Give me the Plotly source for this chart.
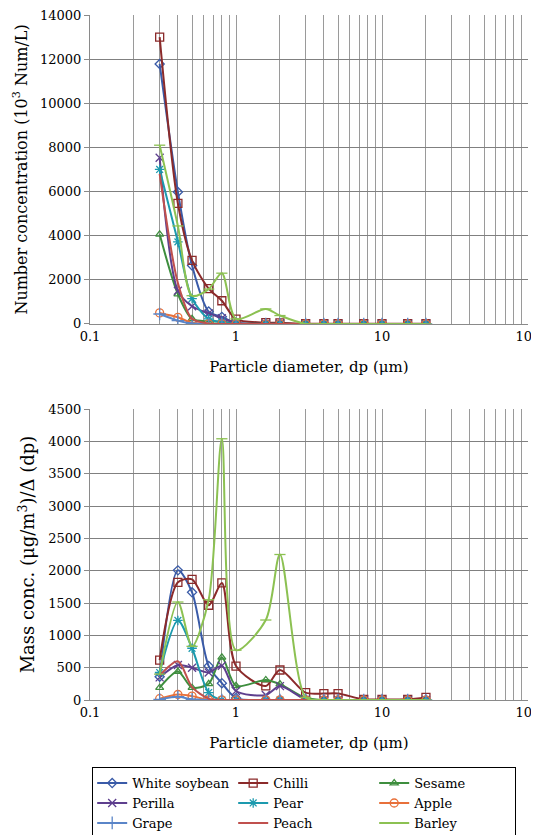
import plotly.graph_objects as go

dp = [0.3, 0.4, 0.5, 0.65, 0.8, 1.0, 1.6, 2.0, 3.0, 4.0, 5.0, 7.5, 10, 15, 20]

series_names = ["White soybean", "Chilli", "Sesame", "Perilla", "Pear", "Apple", "Grape", "Peach", "Barley"]

# Number concentration (10^3 Num/L)
num_white_soybean = [11780, 5980, 2650, 560, 320, 40, 10, 5, 0, 0, 0, 0, 0, 0, 0]
num_chilli = [13000, 5460, 2880, 1600, 1050, 220, 60, 50, 10, 10, 10, 10, 10, 10, 10]
num_sesame = [4060, 1350, 230, 120, 110, 20, 5, 5, 0, 0, 0, 0, 0, 0, 0]
num_perilla = [7530, 1500, 800, 480, 260, 40, 10, 5, 0, 0, 0, 0, 0, 0, 0]
num_pear = [7000, 3720, 1150, 230, 80, 10, 0, 0, 0, 0, 0, 0, 0, 0, 0]
num_apple = [500, 300, 50, 0, 0, 0, 0, 0, 0, 0, 0, 0, 0, 0, 0]
num_grape = [450, 150, 20, 0, 0, 0, 0, 0, 0, 0, 0, 0, 0, 0, 0]
num_peach = [6800, 1850, 230, 20, 0, 0, 0, 0, 0, 0, 0, 0, 0, 0, 0]
num_barley = [8100, 4440, 1280, 1580, 2300, 230, 680, 380, 0, 0, 0, 0, 0, 0, 0]

# Mass concentration (ug/m3)/d(dp)
mass_white_soybean = [360, 2005, 1665, 525, 260, 30, 0, 0, 0, 0, 0, 0, 0, 0, 0]
mass_chilli = [617, 1820, 1865, 1465, 1810, 525, 217, 464, 113, 100, 100, 10, 10, 10, 40]
mass_sesame = [190, 440, 190, 250, 660, 220, 310, 245, 30, 0, 0, 0, 0, 0, 0]
mass_perilla = [350, 540, 500, 425, 530, 140, 77, 215, 10, 0, 0, 0, 0, 0, 0]
mass_pear = [425, 1230, 800, 115, 0, 0, 0, 0, 0, 0, 0, 0, 0, 0, 0]
mass_apple = [20, 85, 60, 0, 0, 0, 0, 0, 0, 0, 0, 0, 0, 0, 0]
mass_grape = [10, 50, 10, 0, 0, 0, 0, 0, 0, 0, 0, 0, 0, 0, 0]
mass_peach = [380, 600, 200, 20, 0, 0, 0, 0, 0, 0, 0, 0, 0, 0, 0]
mass_barley = [400, 1515, 830, 1550, 4040, 770, 1237, 2250, 40, 0, 0, 0, 0, 0, 0]

num_data = [num_white_soybean, num_chilli, num_sesame, num_perilla, num_pear,
            num_apple, num_grape, num_peach, num_barley]
mass_data = [mass_white_soybean, mass_chilli, mass_sesame, mass_perilla, mass_pear,
             mass_apple, mass_grape, mass_peach, mass_barley]

colors = ["#3A5BA8", "#8B2A2A", "#3E8E3E", "#5E3F8E", "#1C9AAE",
          "#E8703A", "#5A85C8", "#C0504D", "#8CC152"]
symbols = ["diamond-open", "square-open", "triangle-up-open", "x-thin-open", "asterisk-open",
           "circle-open", "cross-thin-open", "line-ew-open", "line-ew-open"]
msizes = [7, 8, 7, 8, 8, 8, 9, 0, 8]

FONT = "DejaVu Serif"

fig = go.Figure()
for i, name in enumerate(series_names):
    for j, (data, xa, ya) in enumerate([(num_data, "x", "y"), (mass_data, "x2", "y2")]):
        fig.add_trace(go.Scatter(
            x=dp, y=data[i], name=name, xaxis=xa, yaxis=ya,
            mode="lines+markers" if msizes[i] > 0 else "lines",
            line=dict(color=colors[i], width=2, shape="spline", smoothing=0.8),
            marker=dict(symbol=symbols[i], size=msizes[i] if msizes[i] else 6,
                        color=colors[i], line=dict(color=colors[i], width=1.3)),
            showlegend=(j == 0), legendgroup=name,
        ))

# grid ticks: 1..9 per decade, labels only at decades
gvals = []
for dec in [0.1, 1, 10]:
    for k in range(1, 10):
        gvals.append(round(dec * k, 4))
gvals.append(100)
labels = {0.1: "0.1", 1: "1", 10: "10", 100: "100"}
gtext = [labels.get(v, "") for v in gvals]

xcommon = dict(type="log", range=[-1, 2], tickmode="array", tickvals=gvals, ticktext=gtext,
               showgrid=True, gridcolor="#9a9a9a", gridwidth=1, showline=True, linecolor="#8a8a8a",
               linewidth=1.2, ticks="", zeroline=False, automargin=False, ticklabeloverflow="allow",
               tickfont=dict(family=FONT, size=13, color="black"),
               title=dict(text="Particle diameter, dp (μm)", font=dict(family=FONT, size=15, color="black"),
                          standoff=18))
ycommon = dict(showgrid=True, gridcolor="#808080", gridwidth=1, showline=True, linecolor="#8a8a8a",
               linewidth=1.2, ticks="outside", ticklen=5, tickcolor="#8a8a8a", zeroline=False,
               tickformat="d", automargin=False, ticklabeloverflow="allow",
               tickfont=dict(family=FONT, size=13, color="black"))

# page body adds an 8px offset, so margins compensate for it
fig.update_layout(
    width=539, height=835,
    margin=dict(l=82, r=19, t=7, b=143, autoexpand=False),
    paper_bgcolor="white", plot_bgcolor="white",
    font=dict(family=FONT, size=13, color="black"),
    xaxis=dict(domain=[0, 1], anchor="y", **xcommon),
    yaxis=dict(domain=[0.549, 1], anchor="x", range=[0, 14000], dtick=2000,
               title=dict(text="Number concentration (10<sup>3</sup> Num/L)",
                          font=dict(family=FONT, size=16, color="black"), standoff=8),
               **ycommon),
    xaxis2=dict(domain=[0, 1], anchor="y2", **xcommon),
    yaxis2=dict(domain=[0, 0.4248], anchor="x2", range=[0, 4500], dtick=500,
                title=dict(text="Mass conc. (μg/m<sup>3</sup>)/Δ (dp)",
                           font=dict(family=FONT, size=18, color="black"), standoff=8),
                **ycommon),
    legend=dict(orientation="h", x=0.005, xanchor="left", y=-0.098, yanchor="top",
                bordercolor="black", borderwidth=1, bgcolor="white",
                entrywidth=96, entrywidthmode="pixels",
                font=dict(family=FONT, size=13, color="black"),
                itemwidth=30, tracegroupgap=0),
    showlegend=True,
)

fig.write_html("out.html")
